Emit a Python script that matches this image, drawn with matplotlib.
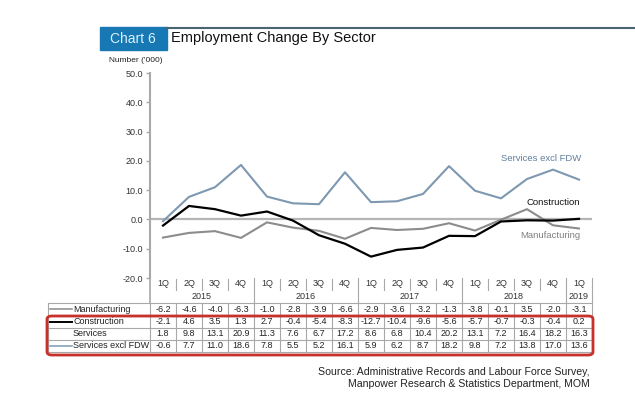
import matplotlib.pyplot as plt
from matplotlib.patches import FancyBboxPatch, Rectangle

quarters = ['1Q', '2Q', '3Q', '4Q'] * 4 + ['1Q']
years = ['2015', '2016', '2017', '2018', '2019']
year_spans = [4, 4, 4, 4, 1]
manufacturing = [-6.2, -4.6, -4.0, -6.3, -1.0, -2.8, -3.9, -6.6, -2.9, -3.6, -3.2, -1.3, -3.8, -0.1, 3.5, -2.0, -3.1]
construction = [-2.1, 4.6, 3.5, 1.3, 2.7, -0.4, -5.4, -8.3, -12.7, -10.4, -9.6, -5.6, -5.7, -0.7, -0.3, -0.4, 0.2]
services = [1.8, 9.8, 13.1, 20.9, 11.3, 7.6, 6.7, 17.2, 8.6, 6.8, 10.4, 20.2, 13.1, 7.2, 16.4, 18.2, 16.3]
services_excl = [-0.6, 7.7, 11.0, 18.6, 7.8, 5.5, 5.2, 16.1, 5.9, 6.2, 8.7, 18.2, 9.8, 7.2, 13.8, 17.0, 13.6]

row_names = ['Manufacturing', 'Construction', 'Services', 'Services excl FDW']
row_values = [manufacturing, construction, services, services_excl]

MANU_C = '#8c8c8c'
CONS_C = '#000000'
SERV_C = '#7d98b0'
GRID_C = '#a8a8a8'
FS = 6.5

W, H = 635, 397
fig = plt.figure(figsize=(W / 100, H / 100), dpi=100)
plt.rcParams['font.family'] = ['Liberation Sans', 'DejaVu Sans']


def px_box(x0, y0, x1, y1):
    return [x0 / W, 1 - y1 / H, (x1 - x0) / W, (y1 - y0) / H]


# header
fig.patches.append(Rectangle((100 / W, 1 - 50 / H), 67 / W, 23 / H,
                             transform=fig.transFigure, color='#1778b4'))
fig.text(133 / W, 1 - 39 / H, 'Chart 6', color='#d8f2ff', fontsize=10,
         ha='center', va='center')
fig.add_artist(plt.Line2D([167 / W, 1], [1 - 28 / H, 1 - 28 / H],
                          transform=fig.transFigure, color='#4a6470', lw=1.5))
fig.text(171 / W, 1 - 38 / H, 'Employment Change By Sector', fontsize=10.5,
         ha='left', va='center', color='#111111')
fig.text(136 / W, 1 - 60 / H, "Number ('000)", fontsize=6, ha='center',
         va='center', color='#222222')

# main chart
n = len(quarters)
xs = [i + 0.5 for i in range(n)]
ax = fig.add_axes(px_box(150, 73, 592, 278))
ax.set_xlim(0, n)
ax.set_ylim(-20, 50)
ax.axhline(0, color='#b5b5b5', lw=1.6, zorder=1)
ax.plot(xs, services_excl, color=SERV_C, lw=1.5, zorder=2)
ax.plot(xs, manufacturing, color=MANU_C, lw=1.5, zorder=2)
ax.plot(xs, construction, color=CONS_C, lw=1.6, zorder=3)
ax.text(16.6, 20.8, 'Services excl FDW', color='#5f7f9c', fontsize=6.8, ha='right', va='center')
ax.text(16.55, 5.8, 'Construction', color='#111111', fontsize=6.8, ha='right', va='center')
ax.text(16.55, -5.5, 'Manufacturing', color='#808080', fontsize=6.8, ha='right', va='center')

ax.set_yticks(range(-20, 51, 10))
ax.set_yticklabels([f'{v:.1f}' for v in range(-20, 51, 10)], fontsize=FS, color='#333333')
ax.tick_params(axis='y', length=3, width=1, color=GRID_C, pad=2)
ax.set_xticks([])
for s in ['top', 'right', 'bottom']:
    ax.spines[s].set_visible(False)
ax.spines['left'].set_color(GRID_C)
ax.spines['left'].set_linewidth(1.5)

# table under the chart (y in pixels, downward)
tb = fig.add_axes(px_box(150, 278, 592, 358))
tb.set_xlim(0, n)
tb.set_ylim(358, 278)
tb.axis('off')
left = (48 - 150) / 26
lk = dict(color=GRID_C, lw=0.8, clip_on=False)

# quarter and year labels
for i, q in enumerate(quarters):
    tb.text(i + 0.5, 284, q, fontsize=FS, ha='center', va='center', color='#333333')
start = 0
bounds = [0]
for y, span in zip(years, year_spans):
    tb.text(start + span / 2, 297, y, fontsize=FS, ha='center', va='center', color='#333333')
    start += span
    bounds.append(start)
for i in range(1, n):
    if i not in bounds:
        tb.plot([i, i], [279, 290], **lk)
for b in bounds:
    tb.plot([b, b], [278, 303], color=GRID_C, lw=1.2 if b == 0 else 0.8, clip_on=False)

# table grid
row_y = [309.5, 322, 334, 346]
h_lines = [303, 316, 328, 340, 352]
for hy in h_lines:
    tb.plot([left, n], [hy, hy], **lk)
for i in range(n + 1):
    tb.plot([i, i], [303, 352], **lk)
tb.plot([left, left], [303, 352], **lk)

line_cols = [MANU_C, CONS_C, None, SERV_C]
for name, vals, ry, lc in zip(row_names, row_values, row_y, line_cols):
    if lc is not None:
        tb.plot([(50 - 150) / 26, (72 - 150) / 26], [ry, ry], color=lc,
                lw=1.4 if lc == CONS_C else 1.1, clip_on=False)
    tb.text((73 - 150) / 26, ry, name, fontsize=FS, ha='left', va='center',
            color='#222222', clip_on=False)
    for i, v in enumerate(vals):
        tb.text(i + 0.5, ry, f'{v:.1f}', fontsize=FS, ha='center', va='center',
                color='#222222')

# red highlight box around rows 2-4
fig.patches.append(FancyBboxPatch((47 / W, 1 - 355 / H), 546 / W, 39 / H,
                                  boxstyle='round,pad=0,rounding_size=0.008',
                                  transform=fig.transFigure, fill=False,
                                  edgecolor='#c8302c', lw=2))

# source
fig.text(590 / W, 1 - 372 / H, 'Source: Administrative Records and Labour Force Survey,',
         fontsize=7.6, ha='right', va='center', color='#222222')
fig.text(590 / W, 1 - 384 / H, 'Manpower Research & Statistics Department, MOM',
         fontsize=7.6, ha='right', va='center', color='#222222')

fig.savefig('out.png', dpi=100)
